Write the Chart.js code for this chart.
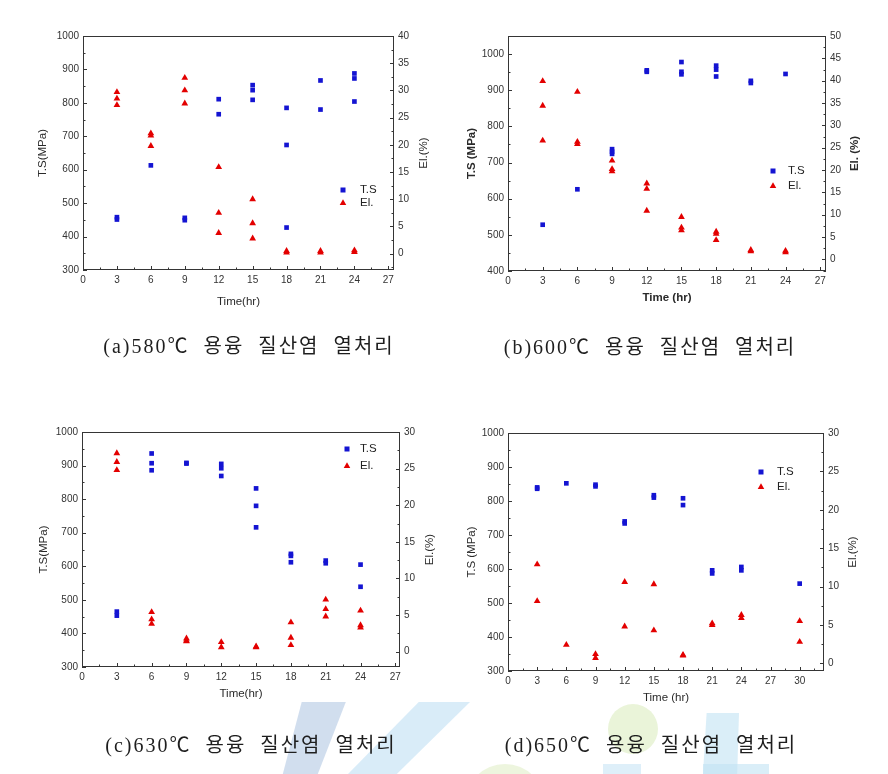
<!DOCTYPE html>
<html lang="ko">
<head>
    <meta charset="utf-8" />
    <title>용융 질산염 열처리 - 인장강도 / 연신율</title>
    <script src="https://cdn.jsdelivr.net/npm/chart.js@4.4.1/dist/chart.umd.min.js"></script>
    <style>
        body { margin: 0; background: #fff; }
        #page { position: relative; width: 888px; height: 774px; overflow: hidden; background: #fff; }
        canvas { position: absolute; }
        .cap {
            position: absolute; transform: translate(-50%, -50%); white-space: pre;
            font-family: "Liberation Serif", "Noto Sans CJK KR", serif; font-size: 20px;
            letter-spacing: 2px; color: #1e1e1e; z-index: 2;
        }
        .wm { position: absolute; z-index: 1; opacity: 0.6; }
    </style>
</head>

<body>
    <div id="page">
        <!-- faint watermark behind the lower captions -->
        <div class="wm" style="left:280px;top:702px;width:70px;height:72px;background:#b3c8e3;clip-path:polygon(31% 0,94% 0,54% 100%,4% 100%);"></div>
        <div class="wm" style="left:348px;top:702px;width:122px;height:72px;background:#bfe0f3;clip-path:polygon(58% 0,100% 0,40% 100%,0 100%);"></div>
        <div class="wm" style="left:608px;top:704px;width:50px;height:50px;border-radius:50%;background:#dcedbf;"></div>
        <div class="wm" style="left:465px;top:764px;width:80px;height:80px;border-radius:50%;background:#e1efc8;"></div>
        <div class="wm" style="left:703px;top:713px;width:36px;height:61px;background:#c2e2f4;clip-path:polygon(10% 0,100% 0,95% 100%,0 100%);"></div>
        <div class="wm" style="left:703px;top:764px;width:66px;height:10px;background:#c2e2f4;"></div>
        <div class="wm" style="left:603px;top:764px;width:38px;height:10px;background:#c8e5f5;"></div>

        <canvas id="chartA" width="444" height="330" style="left:0px;top:0px"></canvas>
        <canvas id="chartB" width="444" height="330" style="left:444px;top:0px"></canvas>
        <canvas id="chartC" width="444" height="330" style="left:0px;top:395px"></canvas>
        <canvas id="chartD" width="444" height="330" style="left:444px;top:395px"></canvas>

        <div class="cap" style="left:249px;top:344px">(a)580℃  용융  질산염  열처리</div>
        <div class="cap" style="left:650px;top:345px">(b)600℃  용융  질산염  열처리</div>
        <div class="cap" style="left:251px;top:743px">(c)630℃  용융  질산염  열처리</div>
        <div class="cap" style="left:651px;top:743px">(d)650℃  용융  질산염  열처리</div>
    </div>

    <script>
        // heat-treatment time (hr), one entry per group of specimens
        const hoursABC = [3, 6, 9, 12, 15, 18, 21, 24];
        const hoursD = [3, 6, 9, 12, 15, 18, 21, 24, 30];

        // (a) 580C
        const tsA = [[458, 451], [613], [456, 449], [811, 766], [853, 838, 809], [785, 674, 427], [867, 780], [888, 873, 804]];
        const elA = [[29.7, 28.5, 27.3], [22.1, 21.7, 19.8], [32.3, 30.0, 27.6], [15.9, 7.5, 3.8], [10.0, 5.6, 2.8], [0.2, 0.5], [0.5, 0.2], [0.6, 0.3]];
        // (b) 600C
        const tsB = [[528], [626], [737, 730, 724], [955, 951], [978, 951, 944], [968, 957, 938], [926, 920], [945]];
        const elB = [[39.9, 34.4, 26.6], [37.5, 26.3, 25.8], [22.1, 20.2, 19.7], [17.0, 15.8, 10.9], [9.5, 7.1, 6.5], [6.2, 5.7, 4.3], [2.1, 1.8], [1.9, 1.6]];
        // (c) 630C
        const tsC = [[465, 453], [936, 907, 886], [908, 906], [905, 892, 869], [832, 780, 716], [637, 631, 612], [617, 609], [605, 539]];
        const elC = [[27.1, 25.9, 24.8], [5.4, 4.4, 3.8], [1.8, 1.5, 1.4], [1.3, 0.6], [0.7, 0.6], [4.0, 1.9, 0.9], [7.1, 5.8, 4.8], [5.6, 3.6, 3.3]];
        // (d) 650C
        const tsD = [[840, 836], [852], [848, 843], [740, 734], [817, 810], [808, 788], [596, 587], [606, 596], [557]];
        const elD = [[12.9, 8.1], [2.4], [1.2, 0.7], [10.6, 4.8], [10.3, 4.3], [1.1, 1.0], [5.2, 5.0], [6.3, 5.9], [5.5, 2.8]];

        // tick labels
        const xTicks27 = [0, 3, 6, 9, 12, 15, 18, 21, 24, 27];
        const xTicks30 = [0, 3, 6, 9, 12, 15, 18, 21, 24, 27, 30];
        const tsTicks300 = [300, 400, 500, 600, 700, 800, 900, 1000];
        const tsTicks400 = [400, 500, 600, 700, 800, 900, 1000];
        const elTicks30 = [0, 5, 10, 15, 20, 25, 30];
        const elTicks40 = [0, 5, 10, 15, 20, 25, 30, 35, 40];
        const elTicks50 = [0, 5, 10, 15, 20, 25, 30, 35, 40, 45, 50];

        const BLUE = '#1414d2';
        const RED = '#e30000';
        const FONT = '"Liberation Sans", Arial, sans-serif';

        function points(hours, groups) {
            const out = [];
            hours.forEach((h, i) => groups[i].forEach(v => out.push({ x: h, y: v })));
            return out;
        }

        function tri(ctx, x, y, r) {
            ctx.beginPath();
            ctx.moveTo(x, y - r);
            ctx.lineTo(x + r * 0.866, y + r / 2);
            ctx.lineTo(x - r * 0.866, y + r / 2);
            ctx.closePath();
            ctx.fill();
        }

        // box, inward major/minor ticks, right title, legend
        const framePlugin = {
            id: 'frame',
            beforeDatasetsDraw(chart, args, o) {
                const { ctx, chartArea: a, scales } = chart;
                ctx.save();
                ctx.strokeStyle = '#353535';
                ctx.lineWidth = 1;
                ctx.strokeRect(a.left + 0.5, a.top + 0.5, a.right - a.left - 1, a.bottom - a.top - 1);
                const marks = (s) => {
                    const vals = s.ticks.map(t => t.value);
                    const step = vals[1] - vals[0];
                    const m = vals.map(v => [v, 4]);
                    for (let v = vals[0] - step / 2; v <= s.max; v += step) if (v >= s.min) m.push([v, 2.5]);
                    return m;
                };
                ctx.beginPath();
                for (const [v, len] of marks(scales.x)) {
                    const p = Math.round(scales.x.getPixelForValue(v)) + 0.5;
                    ctx.moveTo(p, a.bottom); ctx.lineTo(p, a.bottom - len);
                }
                for (const [v, len] of marks(scales.y)) {
                    const p = Math.round(scales.y.getPixelForValue(v)) + 0.5;
                    ctx.moveTo(a.left, p); ctx.lineTo(a.left + len, p);
                }
                for (const [v, len] of marks(scales.y1)) {
                    const p = Math.round(scales.y1.getPixelForValue(v)) + 0.5;
                    ctx.moveTo(a.right, p); ctx.lineTo(a.right - len, p);
                }
                ctx.stroke();

                // right axis title reads bottom to top
                ctx.fillStyle = '#2a2a2a';
                ctx.font = o.titleWeight + ' 11.5px ' + FONT;
                ctx.textAlign = 'center';
                ctx.textBaseline = 'middle';
                ctx.translate(a.right + o.rightTitleOff, (a.top + a.bottom) / 2);
                ctx.rotate(-Math.PI / 2);
                ctx.fillText(o.rightTitle, 0, 0);
                ctx.restore();
            },
            afterDatasetsDraw(chart, args, o) {
                const { ctx, chartArea: a } = chart;
                const x = a.left + o.legX, y = a.top + o.legY;
                ctx.save();
                ctx.fillStyle = BLUE;
                ctx.fillRect(x - 2.5, y - 2.5, 5, 5);
                ctx.fillStyle = RED;
                tri(ctx, x, y + o.legGap, 3.8);
                ctx.fillStyle = '#222';
                ctx.font = '11.5px ' + FONT;
                ctx.textBaseline = 'middle';
                ctx.fillText('T.S', x + o.legText, y);
                ctx.fillText('El.', x + o.legText, y + o.legGap);
                ctx.restore();
            }
        };

        function makePanel(p) {
            const tickFont = { family: FONT, size: 10 };
            const titleFont = { family: FONT, size: 11.5, weight: p.titleWeight, lineHeight: 1.2 };
            const plain = v => String(v);
            new Chart(document.getElementById(p.id), {
                type: 'scatter',
                data: {
                    datasets: [
                        {
                            label: 'T.S', data: points(p.hours, p.ts), yAxisID: 'y',
                            pointStyle: 'rect', pointRadius: 3.3, borderWidth: 0,
                            backgroundColor: BLUE, borderColor: BLUE
                        },
                        {
                            label: 'El.', data: points(p.hours, p.el), yAxisID: 'y1',
                            pointStyle: 'triangle', pointRadius: 3.9, borderWidth: 0,
                            backgroundColor: RED, borderColor: RED
                        }
                    ]
                },
                options: {
                    responsive: false,
                    animation: false,
                    events: [],
                    layout: { padding: { top: p.topPad, left: 0, right: 0, bottom: 0 } },
                    plugins: {
                        legend: { display: false },
                        tooltip: { enabled: false },
                        frame: {
                            rightTitle: p.elTitle, rightTitleOff: p.rightTitleOff, titleWeight: p.titleWeight,
                            legX: p.legX, legY: p.legY, legGap: p.legGap, legText: p.legText
                        }
                    },
                    scales: {
                        x: {
                            type: 'linear', position: 'bottom', min: 0, max: p.xMax,
                            grid: { display: false, drawTicks: false }, border: { display: false },
                            ticks: { font: tickFont, color: '#333', padding: 4, maxRotation: 0, autoSkip: false, callback: plain },
                            afterBuildTicks: s => { s.ticks = p.xTicks.map(v => ({ value: v })); },
                            afterFit: s => { s.height = p.bottomH; },
                            title: { display: true, text: p.xTitle, font: titleFont, color: '#2a2a2a', padding: { top: 0, bottom: p.padB } }
                        },
                        y: {
                            type: 'linear', position: 'left', min: p.tsMin, max: p.tsMax,
                            grid: { display: false, drawTicks: false }, border: { display: false },
                            ticks: { font: tickFont, color: '#333', padding: 4, callback: plain },
                            afterBuildTicks: s => { s.ticks = p.tsTicks.map(v => ({ value: v })); },
                            afterFit: s => { s.width = p.leftW; },
                            title: { display: true, text: p.tsTitle, font: titleFont, color: '#2a2a2a', padding: { top: p.padL, bottom: 0 } }
                        },
                        y1: {
                            type: 'linear', position: 'right', min: p.elMin, max: p.elMax,
                            grid: { display: false, drawTicks: false }, border: { display: false },
                            ticks: { font: tickFont, color: '#333', padding: 4, callback: plain },
                            afterBuildTicks: s => { s.ticks = p.elTicks.map(v => ({ value: v })); },
                            afterFit: s => { s.width = p.rightW; }
                        }
                    }
                },
                plugins: [framePlugin]
            });
        }

        makePanel({
            id: 'chartA', hours: hoursABC, ts: tsA, el: elA,
            xTicks: xTicks27, tsTicks: tsTicks300, elTicks: elTicks40,
            xMax: 27.5, tsMin: 300, tsMax: 1000, elMin: -3, elMax: 40,
            xTitle: 'Time(hr)', tsTitle: 'T.S(MPa)', elTitle: 'El.(%)', titleWeight: 'normal',
            leftW: 83, rightW: 50, bottomH: 60, topPad: 36, padL: 36, padB: 21, rightTitleOff: 30,
            legX: 260, legY: 154, legGap: 13, legText: 17
        });
        makePanel({
            id: 'chartB', hours: hoursABC, ts: tsB, el: elB,
            xTicks: xTicks27, tsTicks: tsTicks400, elTicks: elTicks50,
            xMax: 27.5, tsMin: 400, tsMax: 1050, elMin: -2.6, elMax: 50,
            xTitle: 'Time (hr)', tsTitle: 'T.S (MPa)', elTitle: 'El. (%)', titleWeight: 'bold',
            leftW: 64, rightW: 62, bottomH: 59, topPad: 36, padL: 21, padB: 25, rightTitleOff: 29,
            legX: 265, legY: 135, legGap: 15, legText: 15
        });
        makePanel({
            id: 'chartC', hours: hoursABC, ts: tsC, el: elC,
            xTicks: xTicks27, tsTicks: tsTicks300, elTicks: elTicks30,
            xMax: 27.4, tsMin: 300, tsMax: 1000, elMin: -2.1, elMax: 30,
            xTitle: 'Time(hr)', tsTitle: 'T.S(MPa)', elTitle: 'El.(%)', titleWeight: 'normal',
            leftW: 82, rightW: 44, bottomH: 58, topPad: 37, padL: 37, padB: 24, rightTitleOff: 30,
            legX: 265, legY: 17, legGap: 17, legText: 13
        });
        makePanel({
            id: 'chartD', hours: hoursD, ts: tsD, el: elD,
            xTicks: xTicks30, tsTicks: tsTicks300, elTicks: elTicks30,
            xMax: 32.5, tsMin: 300, tsMax: 1000, elMin: -1, elMax: 30,
            xTitle: 'Time (hr)', tsTitle: 'T.S (MPa)', elTitle: 'El.(%)', titleWeight: 'normal',
            leftW: 64, rightW: 64, bottomH: 54, topPad: 38, padL: 21, padB: 20, rightTitleOff: 29,
            legX: 253, legY: 39, legGap: 15, legText: 16
        });
    </script>
</body>

</html>
